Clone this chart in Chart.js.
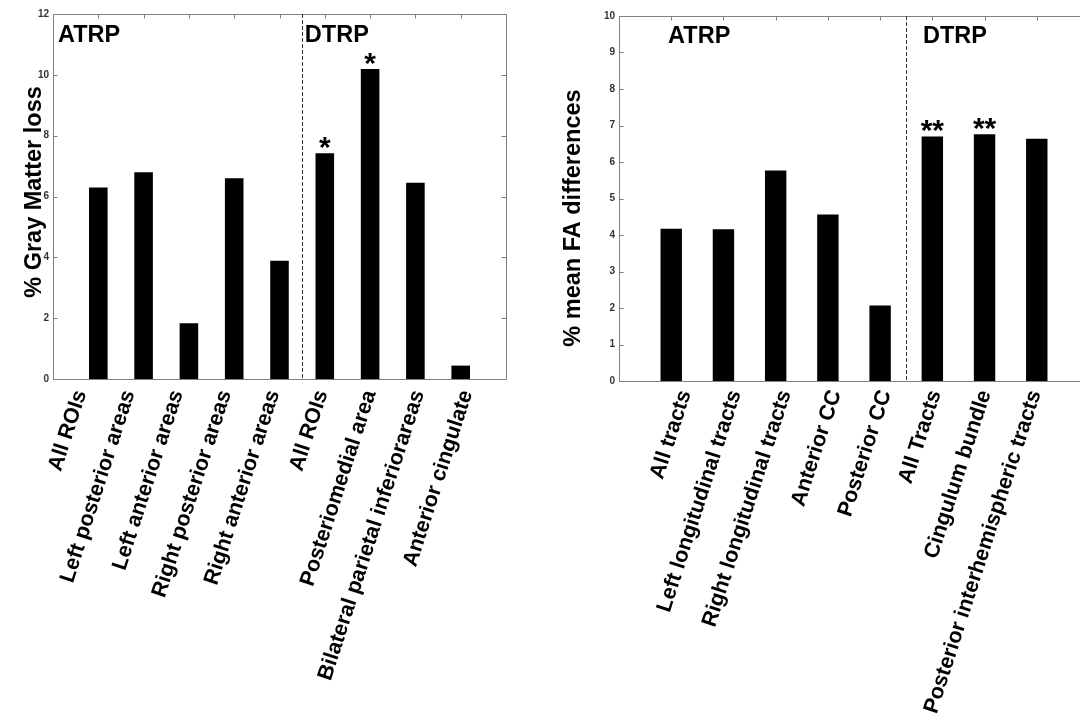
<!DOCTYPE html>
<html><head><meta charset="utf-8">
<script src="https://cdn.jsdelivr.net/npm/chart.js@4/dist/chart.umd.min.js"></script>
<style>
html,body{margin:0;padding:0;background:#fff;overflow:hidden;width:1080px;height:714px;}
#w1{position:absolute;left:0;top:0;width:540px;height:714px;}
#w2{position:absolute;left:560px;top:0;width:540px;height:714px;}
</style></head><body>
<div id="w1"><canvas id="c1"></canvas></div>
<div id="w2"><canvas id="c2"></canvas></div>
<script>
// ---- data ----
const gmCategories = ['All ROIs','Left posterior areas','Left anterior areas','Right posterior areas','Right anterior areas','All ROIs','Posteriomedial area','Bilateral parietal inferiorareas','Anterior cingulate'];
const gmValues = [6.3, 6.8, 1.83, 6.6, 3.89, 7.42, 10.19, 6.45, 0.44];
const gmMarks = ['', '', '', '', '', '*', '*', '', ''];
const gmYTicks = [0, 2, 4, 6, 8, 10, 12];
const gmTitle = '% Gray Matter loss';

const faCategories = ['All tracts','Left longitudinal tracts','Right longitudinal tracts','Anterior CC','Posterior CC','All Tracts','Cingulum bundle','Posterior interhemispheric tracts'];
const faValues = [4.17, 4.16, 5.77, 4.56, 2.07, 6.70, 6.76, 6.64];
const faMarks = ['', '', '', '', '', '**', '**', ''];
const faYTicks = [0, 1, 2, 3, 4, 5, 6, 7, 8, 9, 10];
const faTitle = '% mean FA differences';

const groupNames = ['ATRP', 'DTRP'];

const FONT = "'Liberation Sans', Arial, sans-serif";
Chart.defaults.font.family = FONT;

const decor = {
  id: 'decor',
  afterDatasetsDraw(chart, args, o) {
    const {ctx, chartArea: a, scales} = chart;
    const x = scales.x, y = scales.y;
    ctx.save();
    ctx.strokeStyle = '#808080';
    ctx.lineWidth = 1;
    const L = Math.round(a.left) + 0.5, R = Math.round(a.right) + 0.5;
    const T = Math.round(a.top) + 0.5, B = Math.round(a.bottom) + 0.5;
    ctx.beginPath();
    ctx.moveTo(R, T); ctx.lineTo(L, T); ctx.lineTo(L, B); ctx.lineTo(R, B);
    if (o.rightBorder) { ctx.moveTo(R, T); ctx.lineTo(R, B); }
    y.ticks.forEach(t => {
      const py = Math.round(y.getPixelForValue(t.value)) + 0.5;
      ctx.moveTo(L, py); ctx.lineTo(L + 4, py);
      ctx.moveTo(R - 5, py); ctx.lineTo(R, py);
    });
    for (let i = 1; i <= o.n; i++) {
      const px = Math.round(x.getPixelForValue(i)) + 0.5;
      ctx.moveTo(px, T); ctx.lineTo(px, T + 4);
    }
    ctx.stroke();
    // divider between groups
    ctx.strokeStyle = '#333';
    ctx.setLineDash([4, 2]);
    const dx = Math.round(x.getPixelForValue(o.divider)) + 0.5;
    ctx.beginPath(); ctx.moveTo(dx, a.top); ctx.lineTo(dx, a.bottom); ctx.stroke();
    ctx.setLineDash([]);
    // y-axis title
    ctx.fillStyle = '#000';
    ctx.font = "bold 23.5px " + FONT;
    ctx.textAlign = 'center';
    ctx.textBaseline = 'middle';
    ctx.save();
    ctx.translate(o.title.x, o.title.y);
    ctx.rotate(-Math.PI / 2);
    ctx.fillText(o.title.text, 0, 0);
    ctx.restore();
    // group labels
    ctx.textAlign = 'left';
    o.groups.forEach((g, i) => {
      ctx.fillText(groupNames[i], x.getPixelForValue(g[0]), y.getPixelForValue(g[1]));
    });
    // significance marks
    ctx.font = "bold 30px " + FONT;
    ctx.textAlign = 'center';
    ctx.textBaseline = 'alphabetic';
    const meta = chart.getDatasetMeta(0);
    o.marks.forEach((m, i) => {
      if (!m) return;
      const bar = meta.data[i + 1];
      ctx.fillText(m, bar.x, bar.y + 4);
    });
    ctx.restore();
  }
};

function makeChart(id, cats, vals, marks, yTicks, yMax, title, cfg) {
  const labels = [''].concat(cats, ['']);
  const data = [null].concat(vals, [null]);
  return new Chart(document.getElementById(id), {
    type: 'bar',
    data: { labels, datasets: [{ data, backgroundColor: '#000', borderWidth: 0,
      barPercentage: cfg.barPct, categoryPercentage: 1 }] },
    plugins: [decor],
    options: {
      responsive: true, maintainAspectRatio: false, animation: false,
      layout: { padding: cfg.padding },
      plugins: {
        legend: { display: false }, tooltip: { enabled: false },
        decor: { n: cats.length, divider: 5.5, groups: cfg.groups, marks, rightBorder: cfg.rightBorder,
          title: { text: title, x: cfg.titleX, y: cfg.titleY } }
      },
      scales: {
        x: { type: 'category', offset: false, display: false, grid: { display: false } },
        xl: {
          type: 'linear', position: 'bottom', offset: false, min: cfg.labMin, max: cfg.labMax,
          afterBuildTicks: s => { s.ticks = cats.map((c, i) => ({ value: i + 1 })); },
          afterFit: s => { s.height = cfg.xh; },
          grid: { display: false, drawTicks: false, offset: false }, border: { display: false },
          ticks: {
            autoSkip: false, minRotation: cfg.rot, maxRotation: cfg.rot, padding: cfg.labPad,
            color: '#000', font: { size: 21.5, weight: 'bold' },
            callback: v => cats[v - 1]
          }
        },
        y: {
          min: 0, max: yMax,
          afterBuildTicks: s => { s.ticks = yTicks.map(v => ({ value: v })); },
          afterFit: s => { s.width = cfg.yw; },
          grid: { display: false, drawTicks: false }, border: { display: false },
          ticks: { padding: 4, color: '#333', font: { size: 10, weight: 'bold' } },
          title: { display: false }
        }
      }
    }
  });
}

makeChart('c1', gmCategories, gmValues, gmMarks, gmYTicks, 12, gmTitle, {
  padding: { left: 0, top: 14, right: 34, bottom: 0 }, yw: 53, xh: 335,
  barPct: 0.41, rot: 72, labMin: 0.422, labMax: 9.811, labPad: 8, titleX: 35, titleY: 192,
  groups: [[0.11, 11.28], [5.56, 11.28]], rightBorder: true
});
makeChart('c2', faCategories, faValues, faMarks, faYTicks, 10, faTitle, {
  padding: { left: 0, top: 16, right: 11, bottom: 0 }, yw: 59, xh: 333,
  barPct: 0.41, rot: 72, labMin: -0.328, labMax: 9.072, labPad: 6, titleX: 14, titleY: 218,
  groups: [[0.94, 9.45], [5.82, 9.45]], rightBorder: false
});
</script>
</body></html>
